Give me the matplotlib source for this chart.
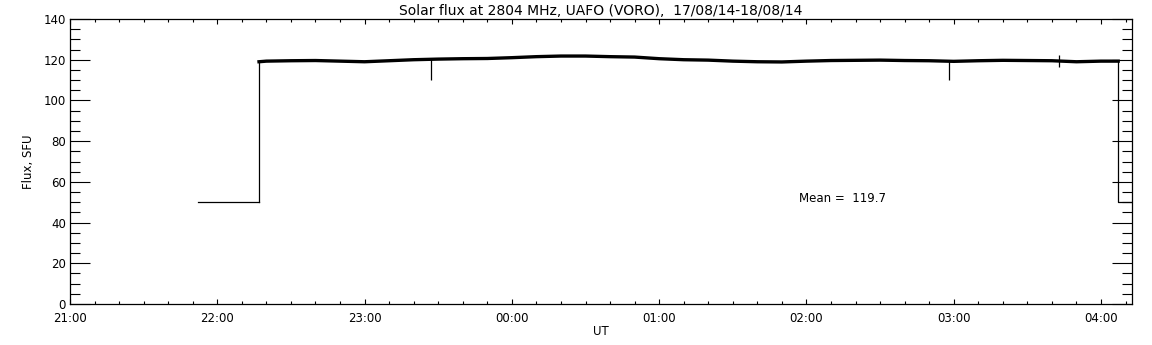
import matplotlib
matplotlib.use("Agg")
import matplotlib.pyplot as plt
from matplotlib.ticker import MultipleLocator, FuncFormatter

# minutes after 21:00 (17/08/14)
flat_start = [52, 77]
flat_value = [50, 50]

trace_minutes = [77, 80, 90, 100, 110, 120, 130, 140, 150, 160, 170, 180, 190, 200,
                 210, 220, 230, 240, 250, 260, 270, 280, 290, 300, 310, 320, 330,
                 340, 350, 360, 370, 380, 390, 400, 410, 420, 427]
trace_flux = [119.0, 119.3, 119.5, 119.6, 119.3, 119.0, 119.5, 120.0, 120.3, 120.5,
              120.6, 121.0, 121.5, 121.8, 121.8, 121.5, 121.3, 120.5, 120.0, 119.8,
              119.3, 119.0, 118.9, 119.3, 119.6, 119.7, 119.8, 119.6, 119.5, 119.2,
              119.5, 119.7, 119.6, 119.5, 119.0, 119.3, 119.3]

end_minutes = [427, 427, 440]
end_flux = [119.3, 50, 50]

spike_minutes = [147, 358, 403]
spike_low = [110, 110, 116.5]
spike_high = [120.3, 119.3, 122.4]

title = "Solar flux at 2804 MHz, UAFO (VORO),  17/08/14-18/08/14"
mean_text = "Mean =  119.7"

fig = plt.figure(figsize=(11.52, 3.45), dpi=100)
ax = fig.add_axes([70/1152, 41/345, 1061.7/1152, 285/345])

ax.plot(flat_start, flat_value, color="black", lw=0.9)
ax.plot([77, 77], [50, 119.0], color="black", lw=0.9)
ax.plot(trace_minutes, trace_flux, color="black", lw=2.4, solid_joinstyle="miter")
ax.plot(end_minutes, end_flux, color="black", lw=0.9)
ax.vlines(spike_minutes, spike_low, spike_high, color="black", lw=0.9)

ax.set_xlim(0, 432.5)
ax.set_ylim(0, 140)

ax.xaxis.set_major_locator(MultipleLocator(60))
ax.xaxis.set_minor_locator(MultipleLocator(10))
ax.yaxis.set_major_locator(MultipleLocator(20))
ax.yaxis.set_minor_locator(MultipleLocator(5))

def fmt(m, pos):
    h = (21 + int(round(m)) // 60) % 24
    return f"{h:02d}:00"
ax.xaxis.set_major_formatter(FuncFormatter(fmt))

ax.tick_params(axis="both", which="both", direction="in", top=True, right=True,
               labelsize=8.5, width=0.8, colors="black")
ax.tick_params(axis="y", which="major", length=14.4, pad=3)
ax.tick_params(axis="y", which="minor", length=7.2)
ax.tick_params(axis="x", which="major", length=3.8, pad=6)
ax.tick_params(axis="x", which="minor", length=2.2)
for s in ax.spines.values():
    s.set_linewidth(0.9)

ax.set_title(title, fontsize=10, pad=3)
ax.set_ylabel("Flux, SFU", fontsize=8.5, labelpad=6)
ax.set_xlabel("UT", fontsize=8.5, labelpad=0)
ax.text(297, 51.6, mean_text, fontsize=8.5, ha="left", va="center")

fig.savefig("out.png", dpi=100)
